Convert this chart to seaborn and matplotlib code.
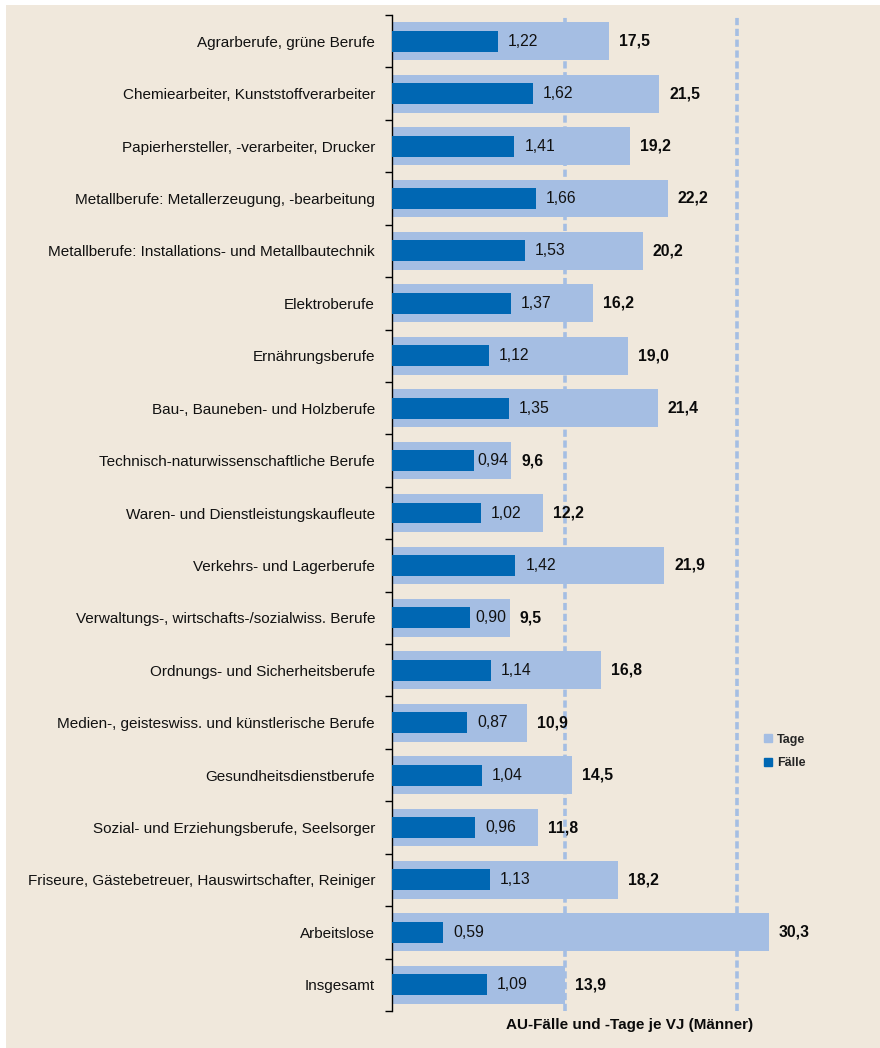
import numpy as np
import matplotlib
matplotlib.use("Agg")
import matplotlib.pyplot as plt
from matplotlib.lines import Line2D
from matplotlib.patches import Rectangle
import seaborn as sns

# --- data ---------------------------------------------------------------
categories = [
    "Agrarberufe, grüne Berufe",
    "Chemiearbeiter, Kunststoffverarbeiter",
    "Papierhersteller, -verarbeiter, Drucker",
    "Metallberufe: Metallerzeugung, -bearbeitung",
    "Metallberufe: Installations- und Metallbautechnik",
    "Elektroberufe",
    "Ernährungsberufe",
    "Bau-, Bauneben- und Holzberufe",
    "Technisch-naturwissenschaftliche Berufe",
    "Waren- und Dienstleistungskaufleute",
    "Verkehrs- und Lagerberufe",
    "Verwaltungs-, wirtschafts-/sozialwiss. Berufe",
    "Ordnungs- und Sicherheitsberufe",
    "Medien-, geisteswiss. und künstlerische Berufe",
    "Gesundheitsdienstberufe",
    "Sozial- und Erziehungsberufe, Seelsorger",
    "Friseure, Gästebetreuer, Hauswirtschafter, Reiniger",
    "Arbeitslose",
    "Insgesamt",
]
tage = [17.5, 21.5, 19.2, 22.2, 20.2, 16.2, 19.0, 21.4, 9.6, 12.2,
        21.9, 9.5, 16.8, 10.9, 14.5, 11.8, 18.2, 30.3, 13.9]
faelle = [1.22, 1.62, 1.41, 1.66, 1.53, 1.37, 1.12, 1.35, 0.94, 1.02,
          1.42, 0.90, 1.14, 0.87, 1.04, 0.96, 1.13, 0.59, 1.09]
# reference lines (days): overall value and its double
ref_lines = [13.9, 27.8]

# --- style --------------------------------------------------------------
sns.set_style("white")
plt.rcParams["font.family"] = ["Liberation Sans", "DejaVu Sans"]

BG = "#F0E8DC"
LIGHT = "#A5BEE3"
DARK = "#0067B3"

W, H = 880, 1048
fig = plt.figure(figsize=(W / 100, H / 100), dpi=100)
fig.patch.set_facecolor("white")
fig.patches.append(Rectangle((6 / W, -0.05), 1.1, 1.05 - 5 / H,
                             transform=fig.transFigure, facecolor=BG,
                             edgecolor="none", linewidth=0, zorder=-10))

left_px, right_px, top_px, bot_px = 391.7, 827.0, 15.0, 1011.0
ax = fig.add_axes([left_px / W, 1 - bot_px / H, (right_px - left_px) / W,
                   (bot_px - top_px) / H])
ax.patch.set_alpha(0)

# days on the primary axis
sns.barplot(x=tage, y=categories, orient="h", color=LIGHT, saturation=1,
            width=0.72, ax=ax, zorder=2, linewidth=0, edgecolor="none")
ax.set_xlim(0, 35)
for v in ref_lines:
    ax.axvline(v, color=LIGHT, lw=2.6, ls=(0, (2.0, 1.0)), zorder=1.5)

# cases on a twin axis (0..5 spans same width as 0..35 days)
ax2 = ax.twiny()
sns.barplot(x=faelle, y=categories, orient="h", color=DARK, saturation=1,
            width=0.40, ax=ax2, zorder=3, linewidth=0, edgecolor="none")
ax2.set_xlim(0, 5)
ax2.set_axis_off()

n = len(categories)
ax.set_ylim(n - 0.5, -0.5)
ax2.set_ylim(n - 0.5, -0.5)

for a in (ax, ax2):
    a.set_xlabel("")
    a.set_ylabel("")

for s in ["top", "right", "bottom"]:
    ax.spines[s].set_visible(False)
ax.spines["left"].set_color("black")
ax.spines["left"].set_linewidth(1.0)
ax.xaxis.set_visible(False)

ax.set_yticks(range(n))
ax.set_yticklabels(categories, fontsize=11, color="#111111")
ax.set_yticks(np.arange(-0.5, n, 1.0), minor=True)
ax.tick_params(axis="y", which="major", length=0, pad=12)
ax.tick_params(axis="y", which="minor", length=5, width=1, color="black",
               direction="out", left=True)

# --- value labels -------------------------------------------------------
fig.canvas.draw()
renderer = fig.canvas.get_renderer()
for i, (t, f) in enumerate(zip(tage, faelle)):
    ax.annotate(f"{t:.1f}".replace(".", ","), xy=(t, i), xytext=(7.2, 0),
                textcoords="offset points", ha="left", va="center",
                fontsize=11.3, fontweight="bold", color="#0a0a0a", zorder=5)
    txt = ax2.annotate(f"{f:.2f}".replace(".", ","), xy=(f, i), xytext=(7.2, 0),
                       textcoords="offset points", ha="left", va="center",
                       fontsize=11.3, color="#111111", zorder=5)
    bb = txt.get_window_extent(renderer)
    tage_end = ax.transData.transform((t, i))[0]
    if bb.x1 > tage_end - 3:
        txt.remove()
        ax.annotate(f"{f:.2f}".replace(".", ","), xy=(t, i), xytext=(-2.2, 0),
                    textcoords="offset points", ha="right", va="center",
                    fontsize=11.3, color="#111111", zorder=5)

# --- axis title and legend ----------------------------------------------
fig.text(629.5 / W, 1 - 1025 / H, "AU-Fälle und -Tage je VJ (Männer)",
         ha="center", va="center", fontsize=11, fontweight="bold",
         color="#0a0a0a")

handles = [
    Line2D([], [], marker="s", ls="", markersize=5.2, color=LIGHT),
    Line2D([], [], marker="s", ls="", markersize=5.2, color=DARK),
]
fig.legend(handles, ["Tage", "Fälle"], loc="center left",
           bbox_to_anchor=(762.5 / W, 1 - 751.5 / H),
           bbox_transform=fig.transFigure, frameon=False,
           handlelength=0.8, handletextpad=0.36, labelspacing=0.95,
           borderpad=0, borderaxespad=0,
           prop={"size": 9, "weight": "bold"})

fig.savefig("out.png", dpi=100, facecolor=fig.get_facecolor())
